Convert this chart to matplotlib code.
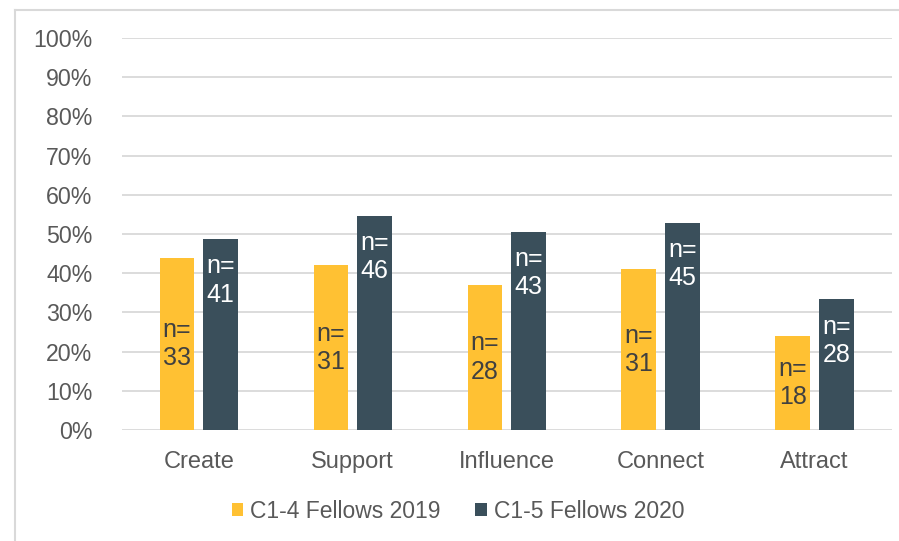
import matplotlib.pyplot as plt
from matplotlib.lines import Line2D
from matplotlib.ticker import PercentFormatter
import numpy as np

# Dados
categorias = ["Create", "Support", "Influence", "Connect", "Attract"]
valores_2019 = [0.44, 0.42, 0.37, 0.41, 0.24]
valores_2020 = [0.487, 0.547, 0.505, 0.528, 0.333]
n_2019 = [33, 31, 28, 31, 18]
n_2020 = [41, 46, 43, 45, 28]
rotulos_series = ["C1-4 Fellows 2019", "C1-5 Fellows 2020"]

cor_2019 = "#FFC133"
cor_2020 = "#3A4F5B"
cor_texto = "#595959"

plt.rcParams["font.family"] = ["Liberation Sans", "DejaVu Sans"]

W, H = 899, 541
fig = plt.figure(figsize=(W / 100, H / 100), dpi=100)
ax = fig.add_axes([121.75 / W, (H - 430) / H, (891.5 - 121.75) / W, (430 - 38) / H])

x = np.arange(len(categorias))
largura = 0.224
desloc = 0.142

barras_2019 = ax.bar(x - desloc, valores_2019, width=largura, color=cor_2019,
                     label=rotulos_series[0], zorder=3)
barras_2020 = ax.bar(x + desloc, valores_2020, width=largura, color=cor_2020,
                     label=rotulos_series[1], zorder=3)

# Rótulos n=
for b, n in zip(barras_2019, n_2019):
    ax.text(b.get_x() + b.get_width() / 2, b.get_height() / 2, f"n=\n{n}",
            ha="center", va="center", fontsize=18, color="#404040",
            linespacing=1.22, zorder=4)
for b, n in zip(barras_2020, n_2020):
    ax.annotate(f"n=\n{n}", xy=(b.get_x() + b.get_width() / 2, b.get_height()),
                xytext=(0, -11), textcoords="offset points",
                ha="center", va="top", fontsize=18, color="white",
                linespacing=1.22, zorder=4)

# Eixos
ax.set_xlim(-0.5, len(categorias) - 0.5)
ax.set_ylim(0, 1)
ax.set_yticks(np.arange(0, 1.01, 0.1))
ax.yaxis.set_major_formatter(PercentFormatter(1.0, decimals=0))
ax.set_xticks(x)
ax.set_xticklabels(categorias)
ax.tick_params(axis="y", length=0, pad=21, labelsize=16.7, labelcolor=cor_texto)
ax.tick_params(axis="x", length=0, pad=15, labelsize=17, labelcolor=cor_texto)
ax.grid(axis="y", color="#D9D9D9", linewidth=1.3, zorder=0)
for lado in ["top", "right", "left", "bottom"]:
    ax.spines[lado].set_visible(False)

# Legenda
fig.legend(loc="center", bbox_to_anchor=(458 / W, (H - 511) / H), ncol=2,
           frameon=False, fontsize=16.5, labelcolor=cor_texto,
           handlelength=0.5, handleheight=0.5, handletextpad=0.3,
           columnspacing=1.5)

# Borda
fig.add_artist(Line2D([15 / W, 1], [(H - 10) / H, (H - 10) / H],
                      color="#D9D9D9", linewidth=1.5))
fig.add_artist(Line2D([15 / W, 15 / W], [0, (H - 10) / H],
                      color="#D9D9D9", linewidth=1.5))

fig.savefig("out.png", dpi=100)
plt.close(fig)
